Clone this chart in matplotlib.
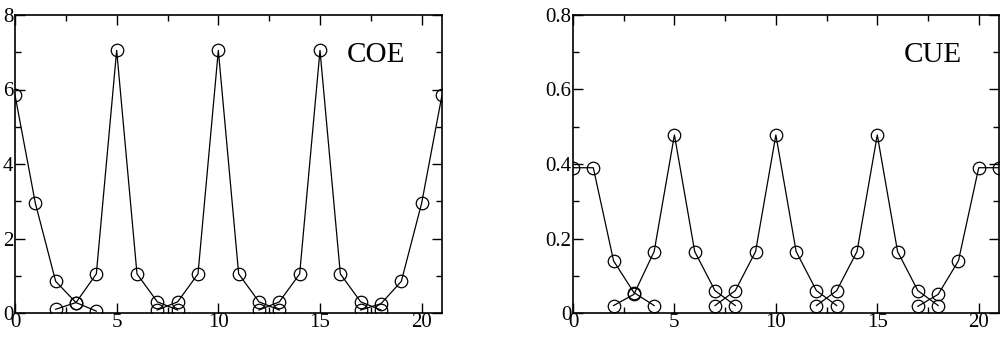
import numpy as np
import matplotlib.pyplot as plt
from matplotlib.ticker import MultipleLocator

plt.rcParams['font.family'] = ['Liberation Serif', 'DejaVu Serif']

# COE branches (x, y) - each branch is one connected line
coe_x1 = [0, 1, 2, 3, 4]
coe_y1 = [5.85, 2.95, 0.85, 0.28, 0.05]
coe_x2 = [2, 3, 4, 5, 6, 7, 8]
coe_y2 = [0.1, 0.28, 1.05, 7.05, 1.05, 0.3, 0.08]
coe_x3 = [7, 8, 9, 10, 11, 12, 13]
coe_y3 = [0.08, 0.3, 1.05, 7.05, 1.05, 0.3, 0.08]
coe_x4 = [12, 13, 14, 15, 16, 17, 18]
coe_y4 = [0.08, 0.3, 1.05, 7.05, 1.05, 0.3, 0.08]
coe_x5 = [17, 18, 19, 20, 21]
coe_y5 = [0.08, 0.25, 0.85, 2.95, 5.85]

# CUE branches
cue_x1 = [0, 1, 2, 3, 4]
cue_y1 = [0.39, 0.39, 0.14, 0.055, 0.02]
cue_x2 = [2, 3, 4, 5, 6, 7, 8]
cue_y2 = [0.02, 0.05, 0.165, 0.478, 0.165, 0.06, 0.02]
cue_x3 = [7, 8, 9, 10, 11, 12, 13]
cue_y3 = [0.02, 0.06, 0.165, 0.478, 0.165, 0.06, 0.02]
cue_x4 = [12, 13, 14, 15, 16, 17, 18]
cue_y4 = [0.02, 0.06, 0.165, 0.478, 0.165, 0.06, 0.02]
cue_x5 = [17, 18, 19, 20, 21]
cue_y5 = [0.018, 0.05, 0.14, 0.39, 0.39]

coe = [(coe_x1, coe_y1), (coe_x2, coe_y2), (coe_x3, coe_y3), (coe_x4, coe_y4), (coe_x5, coe_y5)]
cue = [(cue_x1, cue_y1), (cue_x2, cue_y2), (cue_x3, cue_y3), (cue_x4, cue_y4), (cue_x5, cue_y5)]

fig = plt.figure(figsize=(10.07, 3.44), dpi=100)
ax1 = fig.add_axes([15/1007, 1 - 313/344, 427/1007, 298/344])
ax2 = fig.add_axes([573/1007, 1 - 313/344, 426/1007, 298/344])


def draw(ax, branches, ymax, ymajor, label, ylabels):
	for x, y in branches:
		ax.plot(x, y, color='black', lw=0.9, marker='o', ms=9,
				mfc='none', mec='black', mew=0.9)
	ax.set_xlim(0, 21)
	ax.set_ylim(0, ymax)
	ax.xaxis.set_major_locator(MultipleLocator(5))
	ax.xaxis.set_minor_locator(MultipleLocator(2.5))
	ax.yaxis.set_major_locator(MultipleLocator(ymajor))
	ax.yaxis.set_minor_locator(MultipleLocator(ymajor / 2))
	ax.set_yticks(np.arange(0, ymax + ymajor / 2, ymajor))
	ax.set_yticklabels(ylabels)
	ax.tick_params(which='both', direction='in', top=True, right=True,
				   labelsize=15, width=1)
	ax.tick_params(which='major', length=7)
	ax.tick_params(which='minor', length=4)
	ax.tick_params(axis='y', pad=1)
	ax.tick_params(axis='x', pad=0)
	for s in ax.spines.values():
		s.set_linewidth(1.2)
	ax.text(0.845, 0.866, label, transform=ax.transAxes, fontsize=21,
			ha='center', va='center')


draw(ax1, coe, 8, 2, 'COE', ['0', '2', '4', '6', '8'])
draw(ax2, cue, 0.8, 0.2, 'CUE', ['0', '0.2', '0.4', '0.6', '0.8'])

fig.savefig('out.png', dpi=100)
